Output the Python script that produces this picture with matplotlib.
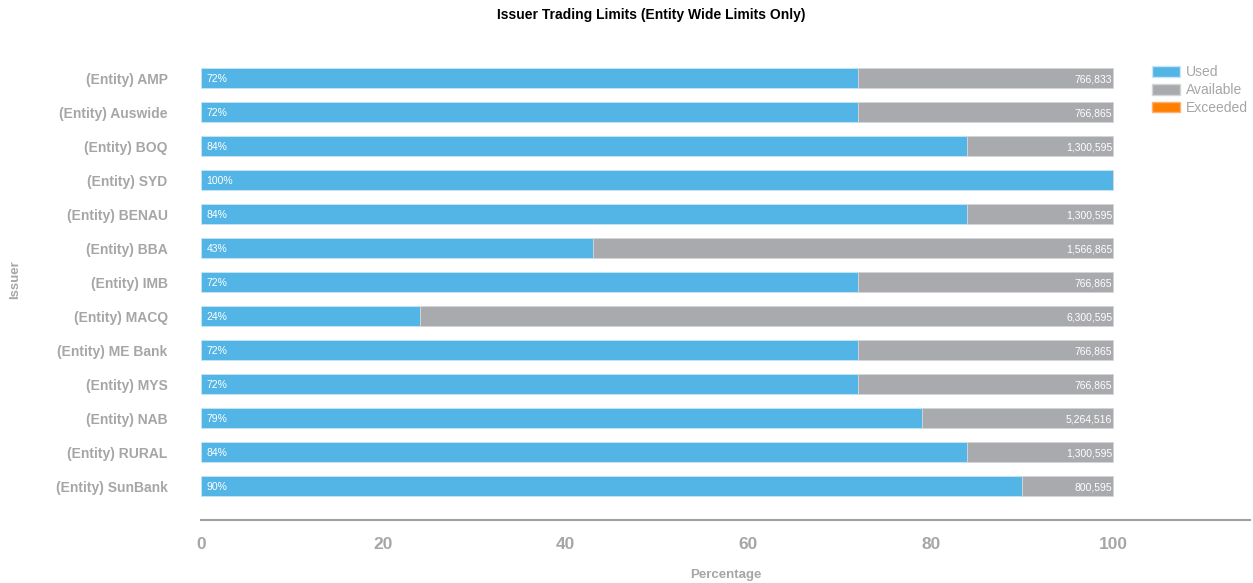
import numpy as np
import matplotlib.pyplot as plt
from matplotlib.patches import Patch

plt.rcParams['font.family'] = ['Liberation Sans', 'DejaVu Sans']

issuers = ["(Entity) AMP", "(Entity) Auswide", "(Entity) BOQ", "(Entity) SYD",
           "(Entity) BENAU", "(Entity) BBA", "(Entity) IMB", "(Entity) MACQ",
           "(Entity) ME Bank", "(Entity) MYS", "(Entity) NAB", "(Entity) RURAL",
           "(Entity) SunBank"]
used = [72, 72, 84, 100, 84, 43, 72, 24, 72, 72, 79, 84, 90]
available_labels = ["766,833", "766,865", "1,300,595", "", "1,300,595", "1,566,865",
                    "766,865", "6,300,595", "766,865", "766,865", "5,264,516",
                    "1,300,595", "800,595"]
xticks = [0, 20, 40, 60, 80, 100]

c_used = "#53b5e6"
c_avail = "#a9aaae"
c_exc = "#ff8000"
c_text = "#a6a6a6"

used = np.array(used)
avail = 100 - used
y = np.arange(len(issuers))

fig = plt.figure(figsize=(12.53, 5.83), dpi=100)
ax = fig.add_axes([0.1604, 0.108, 0.8372, 0.8165])

ax.barh(y, used, height=0.6, color=c_used, edgecolor="#c8e6f6", linewidth=0.6)
ax.barh(y, avail, left=used, height=0.6, color=c_avail, edgecolor="#d4d4d6", linewidth=0.6)

for i in range(len(issuers)):
    ax.text(0.6, y[i] + 0.04, f"{used[i]}%", color="white", fontsize=7.5,
            va="center", ha="left")
    if available_labels[i]:
        ax.text(99.9, y[i] + 0.04, available_labels[i], color="white", fontsize=7.5,
                va="center", ha="right")

ax.set_xlim(0, 115)
ax.set_ylim(len(issuers), -1)
ax.set_yticks(y)
ax.set_yticklabels(issuers, fontsize=10, fontweight="bold", color=c_text)
ax.set_xticks(xticks)
ax.set_xticklabels([str(t) for t in xticks], fontsize=12.5, fontweight="bold", color=c_text)
ax.tick_params(axis="both", length=0)
ax.tick_params(axis="y", pad=24)
ax.tick_params(axis="x", pad=12.5)

for s in ["top", "right", "left"]:
    ax.spines[s].set_visible(False)
ax.spines["bottom"].set_color("#a0a0a0")
ax.spines["bottom"].set_linewidth(1.5)

ax.set_xlabel("Percentage", fontsize=9.5, fontweight="bold", color=c_text, labelpad=12)
fig.text(0.012, 0.52, "Issuer", rotation=90, fontsize=9.5, fontweight="bold",
         color=c_text, va="center", ha="center")
fig.text(0.52, 0.975, "Issuer Trading Limits (Entity Wide Limits Only)",
         fontsize=10, fontweight="bold", ha="center", va="center")

handles = [Patch(facecolor=c_used, edgecolor="#c8e6f6"),
           Patch(facecolor=c_avail, edgecolor="#d4d4d6"),
           Patch(facecolor=c_exc, edgecolor="#ffb070")]
leg = fig.legend(handles, ["Used", "Available", "Exceeded"], loc="upper left",
                 bbox_to_anchor=(0.916, 0.895), frameon=False, fontsize=10,
                 handlelength=2.0, handleheight=0.8, labelspacing=0.27,
                 handletextpad=0.45, borderaxespad=0, borderpad=0.3)
for t in leg.get_texts():
    t.set_color(c_text)

fig.savefig("out.png", dpi=100)
